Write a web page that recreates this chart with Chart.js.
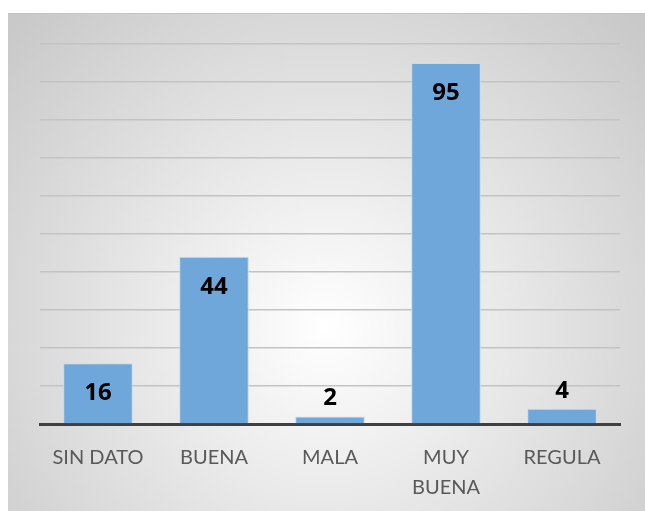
<!DOCTYPE html>
<html>
<head>
<meta charset="utf-8">
<script src="https://cdn.jsdelivr.net/npm/chart.js@4"></script>
<style>
  html, body { margin: 0; padding: 0; background: #fff; }
  #box { position: absolute; left: 8px; top: 13px; width: 637px; height: 498px; border-top: 1px solid #c4c4c4; }
</style>
</head>
<body>
<div id="box"><canvas id="calidad"></canvas></div>
<script>
// categorías y cantidades
const categorias = ['SIN DATO', 'BUENA', 'MALA', ['MUY', 'BUENA'], 'REGULA'];
const cantidades = [16, 44, 2, 95, 4];

// fondo con degradado radial
const fondo = {
  id: 'fondo',
  beforeDraw(chart) {
    const { ctx, width, height } = chart;
    const g = ctx.createRadialGradient(width * 0.5, height * 0.63, 0, width * 0.5, height * 0.63, width * 0.68);
    g.addColorStop(0, '#ffffff');
    g.addColorStop(1, '#c9c9c9');
    ctx.save();
    ctx.fillStyle = g;
    ctx.fillRect(0, 0, width, height);
    ctx.restore();
  }
};

// etiquetas de valor: dentro de la barra, o encima si no cabe
const etiquetas = {
  id: 'etiquetas',
  afterDatasetsDraw(chart) {
    const { ctx } = chart;
    const meta = chart.getDatasetMeta(0);
    ctx.save();
    ctx.font = 'bold 24px "Open Sans"';
    ctx.fillStyle = '#000';
    ctx.textAlign = 'center';
    ctx.textBaseline = 'middle';
    meta.data.forEach((bar, i) => {
      const alto = bar.base - bar.y;
      const y = alto > 40 ? bar.y + 30 : bar.y - 18;
      ctx.fillText(cantidades[i], bar.x, y);
    });
    ctx.restore();
  }
};

new Chart(document.getElementById('calidad').getContext('2d'), {
  type: 'bar',
  data: {
    labels: categorias,
    datasets: [{
      data: cantidades,
      backgroundColor: '#6fa7da',
      borderColor: '#c6dcf1',
      borderWidth: 1,
      categoryPercentage: 1,
      barPercentage: 0.6
    }]
  },
  options: {
    responsive: true,
    maintainAspectRatio: false,
    animation: false,
    layout: { padding: { left: 32, right: 25, top: 30, bottom: 0 } },
    plugins: { legend: { display: false }, tooltip: { enabled: false } },
    scales: {
      x: {
        afterFit(scale) { scale.height = 88; },
        grid: { display: false, drawTicks: false },
        border: { color: '#404040', width: 3 },
        ticks: { color: '#595959', font: { family: 'Lato', size: 20, lineHeight: 1.5 }, padding: 19, maxRotation: 0, autoSkip: false }
      },
      y: {
        min: 0,
        max: 100,
        ticks: { display: false, stepSize: 10 },
        border: { display: false },
        grid: { color: '#c3c3c3', lineWidth: 1.5, drawTicks: false }
      }
    }
  },
  plugins: [fondo, etiquetas]
});
</script>
</body>
</html>
